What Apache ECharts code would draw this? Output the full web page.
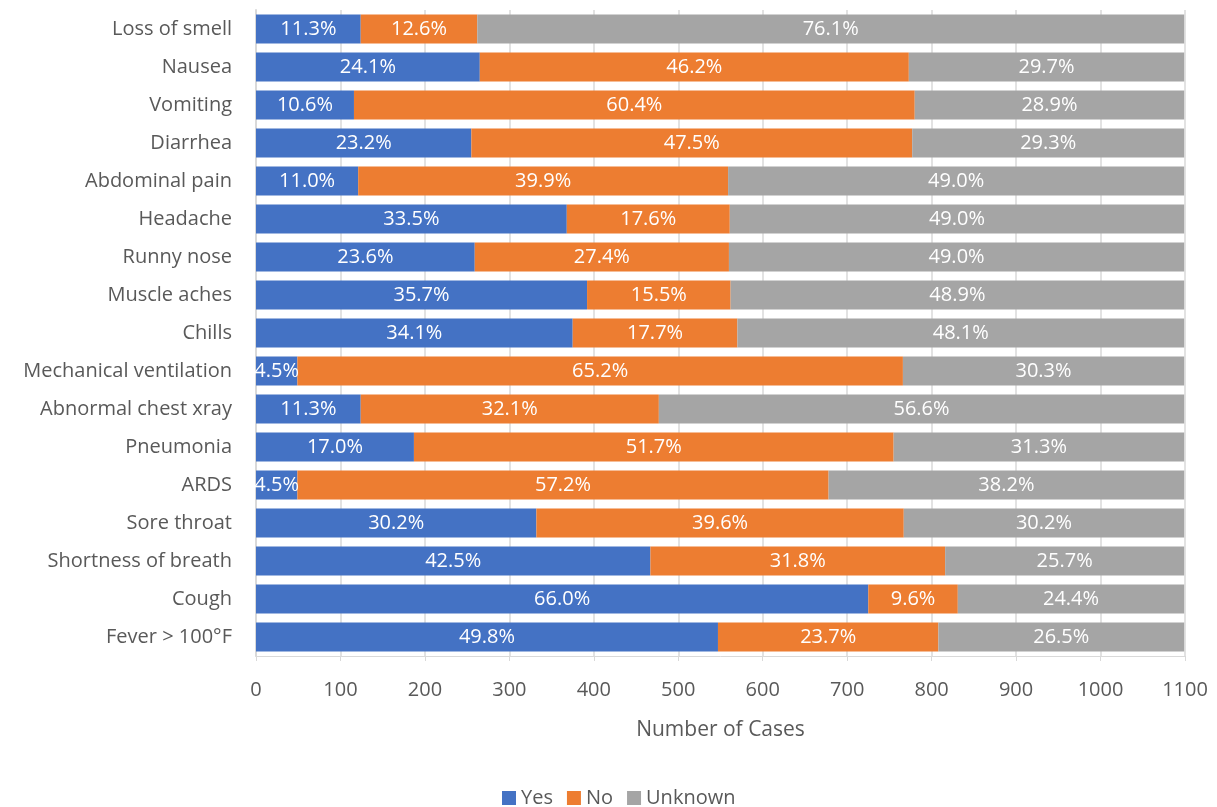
<!DOCTYPE html>
<html>
<head>
<meta charset="utf-8">
<script src="https://cdn.jsdelivr.net/npm/echarts@6/dist/echarts.min.js"></script>
<style>
  html, body { margin: 0; padding: 0; background: #fff; }
  #chart { width: 1217px; height: 807px; }
</style>
</head>
<body>
<div id="chart"></div>
<script>
// categories, bottom to top (category axis runs upward)
const symptoms = ["Fever > 100°F", "Cough", "Shortness of breath", "Sore throat", "ARDS",
  "Pneumonia", "Abnormal chest xray", "Mechanical ventilation", "Chills", "Muscle aches",
  "Runny nose", "Headache", "Abdominal pain", "Diarrhea", "Vomiting", "Nausea", "Loss of smell"];

// number of cases
const yesCases     = [547, 725, 467, 332,  49, 187, 124,  49, 375, 392, 259, 368, 121, 255, 116, 265, 124];
const noCases      = [261, 106, 349, 435, 629, 568, 353, 717, 195, 170, 301, 193, 438, 522, 664, 508, 138];
const unknownCases = [291, 268, 283, 332, 421, 344, 622, 333, 529, 537, 539, 538, 540, 322, 319, 326, 837];

// percentage labels shown on the bars
const yesPct     = ["49.8%", "66.0%", "42.5%", "30.2%", "4.5%", "17.0%", "11.3%", "4.5%", "34.1%", "35.7%",
  "23.6%", "33.5%", "11.0%", "23.2%", "10.6%", "24.1%", "11.3%"];
const noPct      = ["23.7%", "9.6%", "31.8%", "39.6%", "57.2%", "51.7%", "32.1%", "65.2%", "17.7%", "15.5%",
  "27.4%", "17.6%", "39.9%", "47.5%", "60.4%", "46.2%", "12.6%"];
const unknownPct = ["26.5%", "24.4%", "25.7%", "30.2%", "38.2%", "31.3%", "56.6%", "30.3%", "48.1%", "48.9%",
  "49.0%", "49.0%", "49.0%", "29.3%", "28.9%", "29.7%", "76.1%"];

const FONT = "'Open Sans', 'Noto Sans', sans-serif";

function makeSeries(name, data, labels, color) {
  return {
    name: name,
    type: "bar",
    stack: "total",
    data: data,
    barCategoryGap: "24%",
    itemStyle: { color: color },
    label: {
      show: true,
      position: "inside",
      color: "#fff",
      fontFamily: FONT,
      fontSize: 20,
      formatter: (p) => labels[p.dataIndex]
    }
  };
}

const chart = echarts.init(document.getElementById("chart"));
chart.setOption({
  animation: false,
  grid: { left: 256, right: 32, top: 10, bottom: 151, containLabel: false },
  legend: {
    bottom: -6,
    left: 497,
    itemWidth: 14,
    itemHeight: 14,
    itemGap: 14,
    icon: "rect",
    textStyle: { color: "#595959", fontFamily: FONT, fontSize: 20 },
    data: ["Yes", "No", "Unknown"]
  },
  xAxis: {
    type: "value",
    min: 0,
    max: 1100,
    interval: 100,
    name: "Number of Cases",
    nameLocation: "middle",
    nameGap: 64,
    nameTextStyle: { color: "#595959", fontFamily: FONT, fontSize: 21 },
    axisLine: { show: true, lineStyle: { color: "#d9d9d9", width: 1 } },
    axisTick: { show: true, length: 5, lineStyle: { color: "#d9d9d9" } },
    axisLabel: { color: "#595959", fontFamily: FONT, fontSize: 20, margin: 24, formatter: (v) => String(v) },
    splitLine: { show: true, lineStyle: { color: "#d9d9d9", width: 1.5 } }
  },
  yAxis: {
    type: "category",
    data: symptoms,
    axisLine: { show: true, lineStyle: { color: "#d9d9d9", width: 2 } },
    axisTick: { show: false },
    axisLabel: { color: "#595959", fontFamily: FONT, fontSize: 20, margin: 24 }
  },
  series: [
    makeSeries("Yes", yesCases, yesPct, "#4472C4"),
    makeSeries("No", noCases, noPct, "#ED7D31"),
    makeSeries("Unknown", unknownCases, unknownPct, "#A5A5A5")
  ]
});
</script>
</body>
</html>
